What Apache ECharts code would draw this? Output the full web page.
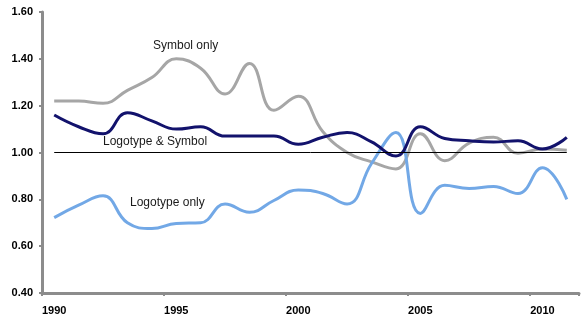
<!DOCTYPE html>
<html>
<head>
<meta charset="utf-8">
<title>Brand element index, 1990–2011</title>
<script src="https://cdn.jsdelivr.net/npm/echarts@6/dist/echarts.min.js"></script>
<style>
  html, body { margin: 0; padding: 0; background: #ffffff; }
  #chart { width: 588px; height: 322px; }
</style>
</head>
<body>
<div id="chart"></div>
<script>
// Years on the category axis
const years = ['1990','1991','1992','1993','1994','1995','1996','1997','1998','1999','2000',
               '2001','2002','2003','2004','2005','2006','2007','2008','2009','2010','2011'];

// Index values per year
const symbolOnly = [1.22, 1.22, 1.21, 1.265, 1.32, 1.40, 1.36, 1.25, 1.38, 1.18, 1.24,
                    1.09, 1.00, 0.96, 0.93, 1.08, 0.965, 1.04, 1.065, 0.997, 1.015, 1.01];
const logotypeAndSymbol = [1.16, 1.11, 1.08, 1.17, 1.135, 1.10, 1.11, 1.07, 1.07, 1.07, 1.035,
                           1.065, 1.085, 1.045, 0.985, 1.11, 1.06, 1.05, 1.045, 1.05, 1.015, 1.065];
const logotypeOnly = [0.722, 0.775, 0.815, 0.70, 0.675, 0.697, 0.70, 0.78, 0.745, 0.795, 0.84,
                      0.825, 0.78, 0.953, 1.085, 0.74, 0.86, 0.846, 0.855, 0.825, 0.935, 0.80];

// Parity level drawn as a thin rule across the years
const parity = 1.00;

// Value-axis ticks
const yMin = 0.40, yMax = 1.60, yStep = 0.20;

const chart = echarts.init(document.getElementById('chart'), null, { renderer: 'canvas' });

const axisGrey = '#8c8c8c';
const labelFont = { color: '#000', fontFamily: 'Liberation Sans, Arial, sans-serif', fontSize: 11, fontWeight: 'bold' };
const noteFont = { fill: '#1a1a1a', font: '12px "Liberation Sans", Arial, sans-serif' };
const everyFifth = (i) => i % 5 === 0;

chart.setOption({
  animation: false,
  backgroundColor: '#ffffff',
  grid: { left: 42, right: 9, top: 12, bottom: 29, containLabel: false },
  xAxis: {
    type: 'category',
    data: years,
    boundaryGap: true,
    axisLine: { lineStyle: { color: axisGrey, width: 3 } },
    axisTick: { show: true, interval: everyFifth, length: 3, lineStyle: { color: axisGrey, width: 2 } },
    axisLabel: Object.assign({ interval: everyFifth, margin: 12 }, labelFont),
    splitLine: { show: false }
  },
  yAxis: {
    type: 'value',
    min: yMin,
    max: yMax,
    interval: yStep,
    axisLine: { show: true, lineStyle: { color: axisGrey, width: 3 } },
    axisTick: { show: true, length: 3, lineStyle: { color: axisGrey, width: 2 } },
    axisLabel: Object.assign({ margin: 9, formatter: (v) => v.toFixed(2) }, labelFont),
    splitLine: { show: false }
  },
  series: [
    {
      name: 'Symbol only',
      type: 'line',
      data: symbolOnly,
      smooth: 0.45,
      showSymbol: false,
      lineStyle: { color: '#a6a6a6', width: 3 },
      itemStyle: { color: '#a6a6a6' },
      z: 2,
      markLine: {
        silent: true,
        symbol: ['none', 'none'],
        label: { show: false },
        lineStyle: { color: '#000', width: 1, type: 'solid' },
        data: [[{ coord: [years[0], parity] }, { coord: [years[years.length - 1], parity] }]]
      }
    },
    {
      name: 'Logotype only',
      type: 'line',
      data: logotypeOnly,
      smooth: 0.45,
      showSymbol: false,
      lineStyle: { color: '#72a8e6', width: 3 },
      itemStyle: { color: '#72a8e6' },
      z: 3
    },
    {
      name: 'Logotype & Symbol',
      type: 'line',
      data: logotypeAndSymbol,
      smooth: 0.45,
      showSymbol: false,
      lineStyle: { color: '#12126c', width: 3 },
      itemStyle: { color: '#12126c' },
      z: 4
    }
  ],
  graphic: [
    { type: 'text', left: 153, top: 40, style: Object.assign({ text: 'Symbol only' }, noteFont) },
    { type: 'text', left: 103, top: 136, style: Object.assign({ text: 'Logotype & Symbol' }, noteFont) },
    { type: 'text', left: 130, top: 197, style: Object.assign({ text: 'Logotype only' }, noteFont) }
  ]
});
</script>
</body>
</html>
